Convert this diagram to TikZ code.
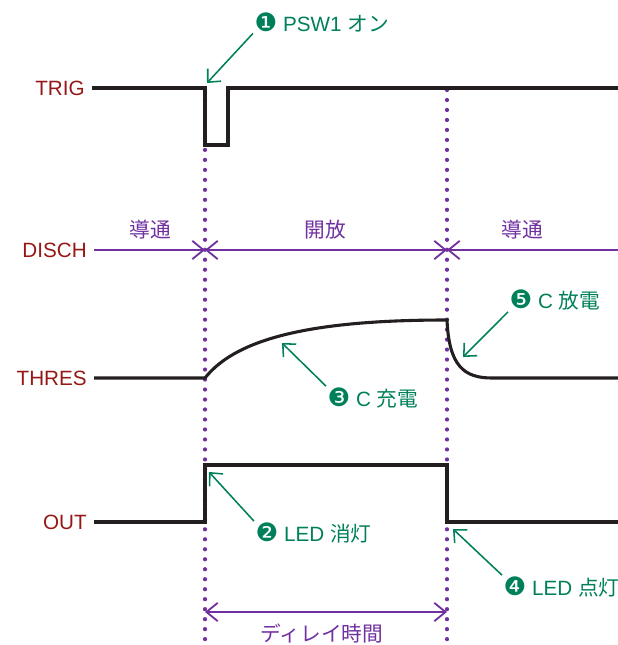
\documentclass[tikz,border=0pt]{standalone}
\usepackage{fontspec}
\setmainfont{Liberation Sans}
\newfontfamily\jpfont{Noto Sans CJK JP}
\newfontfamily\dingfont{DejaVu Sans}
\usetikzlibrary{arrows.meta,positioning}
\definecolor{sigred}{RGB}{150,24,22}
\definecolor{purp}{RGB}{112,48,160}
\definecolor{notegreen}{RGB}{0,128,90}
\definecolor{ink}{RGB}{35,31,32}
\newcommand{\numc}[1]{{\dingfont\fontsize{18}{18}\selectfont #1}}
\newcommand{\jp}[1]{{\jpfont #1}}

\begin{document}
\begin{tikzpicture}[x=0.025cm,y=-0.025cm,
  every node/.style={font=\fontsize{14.7}{16}\selectfont},
  sig/.style={text=sigred,anchor=east,inner sep=5pt},
  wave/.style={ink,line width=2.2pt,line join=miter},
  guide/.style={purp,line width=3pt,line cap=round,dash pattern=on 0pt off 7.1pt},
  span/.style={purp,line width=1.3pt,>={Straight Barb[length=8pt,width=13pt]}},
  phase/.style={text=purp},
  notelabel/.style={text=notegreen,inner sep=1pt},
  callout/.style={notegreen,line width=1.1pt,-{Straight Barb[length=7pt,width=13pt]}}]
  \useasboundingbox (0,0) rectangle (618,645);

  % time marks
  \coordinate (t1) at (205,90);
  \coordinate (t1e) at (205,645);
  \coordinate (t2) at (447,90);
  \coordinate (t2e) at (447,645);
  \draw[guide] (t1) -- (t1e);
  \draw[guide] (t2) -- (t2e);

  % signal names
  \node[sig] (trig) at (92,88) {TRIG};
  \node[sig] (disch) at (94,250) {DISCH};
  \node[sig] (thres) at (94,378) {THRES};
  \node[sig] (out) at (94,522) {OUT};

  % TRIG
  \draw[wave] (trig.east) -- (205,88) -- (205,145) -- (228,145) -- (228,88) -- (618,88);

  % DISCH
  \coordinate (d1) at (205,250);
  \coordinate (d2) at (447,250);
  \coordinate (dend) at (618,250);
  \draw[span,->] (disch.east) -- (d1);
  \draw[span,<->] (d1) -- (d2);
  \draw[span,->] (dend) -- (d2);
  \node[phase] (on1) at (150,230) {\jp{導通}};
  \node[phase] (open) at (325,230) {\jp{開放}};
  \node[phase] (on2) at (522,230) {\jp{導通}};

  % THRES
  \draw[wave] (thres.east) -- (205,378)
    .. controls (238,336) and (320,320) .. (447,320)
    .. controls (449,366) and (464,378) .. (492,378) -- (618,378);

  % OUT
  \draw[wave] (out.east) -- (205,522) -- (205,465) -- (447,465) -- (447,522) -- (618,522);

  % delay
  \coordinate (dl1) at (205,612);
  \coordinate (dl2) at (447,612);
  \draw[span,<->] (dl1) -- (dl2);
  \node[phase] (delay) at (322,634) {\jp{ディレイ時間}};

  % callouts
  \node[notelabel,anchor=west] (n1) at (253,22) {\numc{❶} PSW1 \jp{オン}};
  \node[notelabel,anchor=west] (n2) at (254,533) {\numc{❷} LED \jp{消灯}};
  \node[notelabel,anchor=west] (n3) at (326,398) {\numc{❸} C \jp{充電}};
  \node[notelabel,anchor=west] (n4) at (502,587) {\numc{❹} LED \jp{点灯}};
  \node[notelabel,anchor=west] (n5) at (508,300) {\numc{❺} C \jp{放電}};
  \coordinate (p1) at (207,83);
  \coordinate (p2) at (209,472);
  \coordinate (p3) at (282,343);
  \coordinate (p4) at (453,529);
  \coordinate (p5) at (463,357);
  \draw[callout] (n1.south west) -- (p1);
  \draw[callout] (n2.north west) -- (p2);
  \draw[callout] (n3.north west) -- (p3);
  \draw[callout] (n4.north west) -- (p4);
  \draw[callout] (n5.south west) -- (p5);
\end{tikzpicture}
\end{document}
